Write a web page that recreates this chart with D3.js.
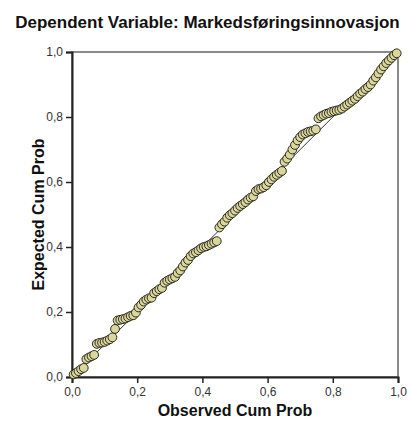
<!DOCTYPE html>
<html>
<head>
<meta charset="utf-8">
<script src="https://cdn.jsdelivr.net/npm/d3@7"></script>
<style>
  body { margin: 0; background: #fff; }
  text { font-family: Arial, "Liberation Sans", sans-serif; }
</style>
</head>
<body>
<div id="chart"></div>
<script>
// P-P plot of regression standardized residual
var chartTitle = "Dependent Variable: Markedsføringsinnovasjon";
var xTitle = "Observed Cum Prob";
var yTitle = "Expected Cum Prob";
var tickValues = [0, 0.2, 0.4, 0.6, 0.8, 1.0];
var tickLabels = ["0,0", "0,2", "0,4", "0,6", "0,8", "1,0"];

var observed = [
  0.005, 0.012, 0.020, 0.028, 0.036, 0.044, 0.052, 0.060, 0.068, 0.076,
  0.084, 0.092, 0.100, 0.108, 0.116, 0.124, 0.132, 0.140, 0.148, 0.156,
  0.164, 0.172, 0.180, 0.188, 0.196, 0.204, 0.212, 0.220, 0.228, 0.236,
  0.244, 0.252, 0.260, 0.268, 0.276, 0.284, 0.292, 0.300, 0.308, 0.316,
  0.324, 0.332, 0.340, 0.348, 0.356, 0.364, 0.372, 0.380, 0.388, 0.396,
  0.404, 0.412, 0.420, 0.428, 0.436, 0.444, 0.452, 0.460, 0.468, 0.476,
  0.484, 0.492, 0.500, 0.508, 0.516, 0.524, 0.532, 0.540, 0.548, 0.556,
  0.564, 0.572, 0.580, 0.588, 0.596, 0.604, 0.612, 0.620, 0.628, 0.636,
  0.644, 0.652, 0.660, 0.668, 0.676, 0.684, 0.692, 0.700, 0.708, 0.716,
  0.724, 0.732, 0.740, 0.748, 0.756, 0.764, 0.772, 0.780, 0.788, 0.796,
  0.804, 0.812, 0.820, 0.828, 0.836, 0.844, 0.852, 0.860, 0.868, 0.876,
  0.884, 0.892, 0.900, 0.908, 0.916, 0.924, 0.932, 0.940, 0.948, 0.956,
  0.964, 0.972, 0.980, 0.988, 0.996
];
var expected = [
  0.008, 0.012, 0.018, 0.024, 0.028, 0.055, 0.060, 0.064, 0.068, 0.102,
  0.105, 0.106, 0.108, 0.112, 0.116, 0.122, 0.148, 0.174, 0.176, 0.178,
  0.180, 0.184, 0.188, 0.190, 0.198, 0.214, 0.222, 0.232, 0.238, 0.242,
  0.244, 0.258, 0.264, 0.270, 0.274, 0.290, 0.296, 0.300, 0.304, 0.308,
  0.320, 0.328, 0.340, 0.352, 0.360, 0.372, 0.380, 0.384, 0.390, 0.396,
  0.400, 0.402, 0.406, 0.410, 0.414, 0.418, 0.460, 0.470, 0.478, 0.490,
  0.498, 0.504, 0.512, 0.520, 0.526, 0.532, 0.538, 0.546, 0.552, 0.556,
  0.572, 0.578, 0.580, 0.584, 0.590, 0.600, 0.608, 0.616, 0.622, 0.628,
  0.634, 0.662, 0.672, 0.684, 0.700, 0.714, 0.728, 0.738, 0.746, 0.750,
  0.754, 0.756, 0.758, 0.762, 0.796, 0.802, 0.806, 0.810, 0.812, 0.816,
  0.818, 0.820, 0.822, 0.826, 0.832, 0.838, 0.844, 0.850, 0.856, 0.864,
  0.872, 0.878, 0.886, 0.892, 0.900, 0.912, 0.922, 0.934, 0.946, 0.956,
  0.966, 0.974, 0.982, 0.990, 0.996
];

var width = 411, height = 421;
var margin = { top: 52, right: 13, bottom: 44, left: 72 };
var w = width - margin.left - margin.right;
var h = height - margin.top - margin.bottom;

var svg = d3.select("#chart").append("svg")
  .attr("width", width)
  .attr("height", height);

svg.append("text")
  .attr("x", width / 2 + 2)
  .attr("y", 28)
  .attr("text-anchor", "middle")
  .style("font-size", "17px")
  .style("font-weight", "bold")
  .style("fill", "#111")
  .text(chartTitle);

var g = svg.append("g")
  .attr("transform", "translate(" + margin.left + "," + margin.top + ")");

var x = d3.scaleLinear().domain([0, 1]).range([0, w]);
var y = d3.scaleLinear().domain([0, 1]).range([h, 0]);

// frame
g.append("rect")
  .attr("width", w).attr("height", h)
  .attr("fill", "none")
  .attr("stroke", "#666")
  .attr("stroke-width", 1.5);

var xAxis = g.append("g")
  .attr("transform", "translate(0," + h + ")")
  .call(d3.axisBottom(x).tickValues(tickValues).tickSize(6)
    .tickFormat(function (d, i) { return tickLabels[i]; }));
var yAxis = g.append("g")
  .call(d3.axisLeft(y).tickValues(tickValues).tickSize(6)
    .tickFormat(function (d, i) { return tickLabels[i]; }));

[xAxis, yAxis].forEach(function (ax) {
  ax.select(".domain").attr("stroke", "#222").attr("stroke-width", 2);
  ax.selectAll(".tick line").attr("stroke", "#222").attr("stroke-width", 1.5);
  ax.selectAll(".tick text")
    .style("font-size", "12px")
    .style("font-family", "Arial, 'Liberation Sans', sans-serif")
    .attr("fill", "#333");
});
xAxis.selectAll(".tick text").attr("dy", "0.8em");
yAxis.selectAll(".tick text").attr("x", -9);

// reference line
g.append("line")
  .attr("x1", x(0)).attr("y1", y(0))
  .attr("x2", x(1)).attr("y2", y(1))
  .attr("stroke", "#333")
  .attr("stroke-width", 1);

var pts = observed.map(function (d, i) { return { o: d, e: expected[i] }; });

g.selectAll("circle.pt")
  .data(pts)
  .enter()
  .append("circle")
  .attr("class", "pt")
  .attr("cx", function (d) { return x(d.o); })
  .attr("cy", function (d) { return y(d.e); })
  .attr("r", 4.4)
  .attr("fill", "#dbd69b")
  .attr("stroke", "#2b2b22")
  .attr("stroke-width", 1);

svg.append("text")
  .attr("x", margin.left + w / 2)
  .attr("y", 416)
  .attr("text-anchor", "middle")
  .style("font-size", "16px")
  .style("font-weight", "bold")
  .style("fill", "#111")
  .text(xTitle);

svg.append("text")
  .attr("transform", "translate(44," + (margin.top + h / 2) + ") rotate(-90)")
  .attr("text-anchor", "middle")
  .style("font-size", "16px")
  .style("font-weight", "bold")
  .style("fill", "#111")
  .text(yTitle);
</script>
</body>
</html>
